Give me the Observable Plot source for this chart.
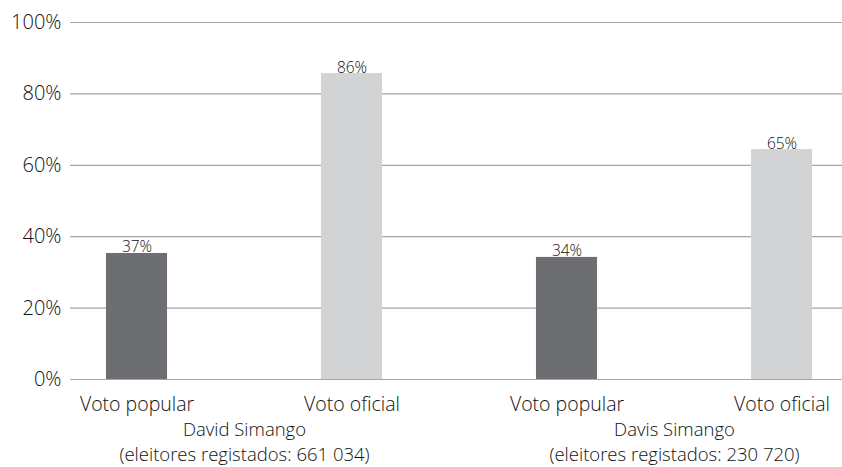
<!DOCTYPE html>
<html>
<head>
<meta charset="utf-8">
<script src="https://cdn.jsdelivr.net/npm/d3@7"></script>
<script src="https://cdn.jsdelivr.net/npm/@observablehq/plot@0.6"></script>
<style>
  html, body { margin: 0; padding: 0; background: #ffffff; }
</style>
</head>
<body>
<div id="chart"></div>
<script>
// ---- data ----
const candidates = ["David Simango", "Davis Simango"];
const registered = ["661 034", "230 720"];
const voteTypes = ["Voto popular", "Voto oficial"];
const barValues = [35.3, 85.7, 34.2, 64.4];
const barLabels = ["37%", "86%", "34%", "65%"];
const yTicks = [0, 20, 40, 60, 80, 100];

// ---- derived tables ----
const bars = barValues.map((v, i) => ({
  pos: i,
  candidate: candidates[Math.floor(i / 2)],
  type: voteTypes[i % 2],
  value: v,
  label: barLabels[i]
}));
const groups = candidates.map((c, g) => ({
  pos: 2 * g + 0.5,
  name: c,
  reg: "(eleitores registados: " + registered[g] + ")"
}));

const half = 0.142;
const chart = Plot.plot({
  width: 842,
  height: 467,
  marginLeft: 70,
  marginRight: 0,
  marginTop: 22,
  marginBottom: 88,
  style: { fontFamily: "'Open Sans', sans-serif", fontWeight: 300, fontSize: "20px", color: "#111", background: "#fff" },
  x: { type: "linear", domain: [-0.3093, 3.2814], axis: null },
  y: { domain: [0, 100], axis: null, label: null },
  marks: [
    Plot.ruleY(yTicks, { stroke: "#a6a6a6", strokeWidth: 1.2 }),
    Plot.rectY(bars, {
      x1: d => d.pos - half,
      x2: d => d.pos + half,
      y: "value",
      fill: d => d.type === voteTypes[0] ? "#6d6e71" : "#d1d3d4"
    }),
    Plot.text(bars, { x: "pos", y: "value", text: "label", lineAnchor: "bottom", dy: -1, fontSize: 15.5, fill: "#111" }),
    Plot.axisY({ ticks: yTicks, tickFormat: d => d + "%", tickSize: 0, tickPadding: 9, fontSize: 20, label: null }),
    Plot.text(bars, { x: "pos", y: 0, text: "type", dy: 25, fontSize: 19.5, fill: "#111" }),
    Plot.text(groups, { x: "pos", y: 0, text: "name", dy: 51, fontSize: 18.5, fill: "#111" }),
    Plot.text(groups, { x: "pos", y: 0, text: "reg", dy: 76, fontSize: 18.5, fill: "#111" })
  ]
});
document.getElementById("chart").appendChild(chart);
</script>
</body>
</html>
